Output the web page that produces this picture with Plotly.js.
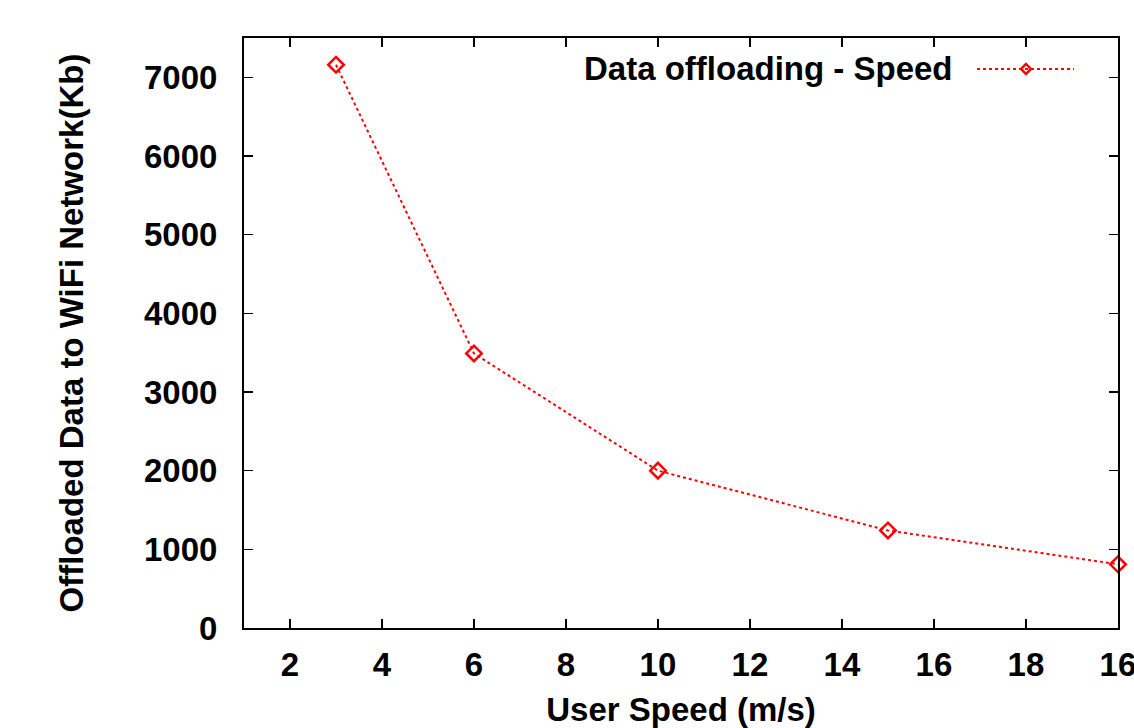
<!DOCTYPE html>
<html>
<head>
<meta charset="utf-8">
<script src="https://cdn.plot.ly/plotly-3.0.1.min.js"></script>
<style>html,body{margin:0;padding:0;background:#fff;}#chart{width:1134px;height:728px;}</style>
</head>
<body>
<div id="chart"></div>
<script>
const speeds = [3, 6, 10, 15, 20];
const offloadedKb = [7160, 3490, 2000, 1240, 810];
const seriesName = "Data offloading - Speed";
const xTickVals = [2, 4, 6, 8, 10, 12, 14, 16, 18, 20];
const xTickText = ["2", "4", "6", "8", "10", "12", "14", "16", "18", "16"];
const yTickVals = [0, 1000, 2000, 3000, 4000, 5000, 6000, 7000];

const font = "Liberation Sans, Arial, sans-serif";
const fsize = 33;

const trace = {
  x: speeds, y: offloadedKb, type: "scatter", mode: "lines+markers",
  name: seriesName, showlegend: false, cliponaxis: false,
  line: {color: "#ff0000", width: 2, dash: "dot"},
  marker: {symbol: "diamond-open", size: 12, color: "#ff0000", line: {width: 2.5, color: "#ff0000"}}
};

const axisCommon = {
  showgrid: false, zeroline: false, showline: true, linecolor: "#000", linewidth: 2,
  mirror: "allticks", ticks: "inside", ticklen: 9, tickwidth: 1.5, tickcolor: "#000",
  tickfont: {family: font, size: fsize, color: "#000", weight: "bold"}
};

const layout = {
  width: 1134, height: 728,
  margin: {l: 244, r: 16, t: 38, b: 100},
  paper_bgcolor: "#fff", plot_bgcolor: "#fff",
  xaxis: Object.assign({}, axisCommon, {
    range: [1, 20.001], tickvals: xTickVals, ticktext: xTickText, ticklabelstandoff: 6,
    ticklabeloverflow: "allow",
    title: {text: "User Speed (m/s)", font: {family: font, size: fsize, color: "#000", weight: "bold"}, standoff: 16}
  }),
  yaxis: Object.assign({}, axisCommon, {
    range: [0, 7500], tickvals: yTickVals, ticklabelstandoff: 18,
    title: {text: "Offloaded Data to WiFi Network(Kb)", font: {family: font, size: fsize, color: "#000", weight: "bold"}, standoff: 50}
  }),
  annotations: [{
    xref: "paper", yref: "paper", x: 0.8135, y: 0.9475, xanchor: "right", yanchor: "middle",
    text: seriesName, showarrow: false, font: {family: font, size: fsize, color: "#000", weight: "bold"}
  }],
  shapes: [
    {type: "line", xref: "paper", yref: "paper", x0: 0.8387, x1: 0.9497, y0: 0.9475, y1: 0.9475,
     line: {color: "#ff0000", width: 2, dash: "dot"}},
    {type: "path", xref: "paper", yref: "paper", xsizemode: "pixel", ysizemode: "pixel",
     xanchor: 0.8947, yanchor: 0.9475, path: "M-5,0 L0,-5 L5,0 L0,5 Z",
     line: {color: "#ff0000", width: 2.5}, fillcolor: "rgba(0,0,0,0)"}
  ]
};

Plotly.newPlot("chart", [trace], layout, {displayModeBar: false, staticPlot: true});
</script>
</body>
</html>
